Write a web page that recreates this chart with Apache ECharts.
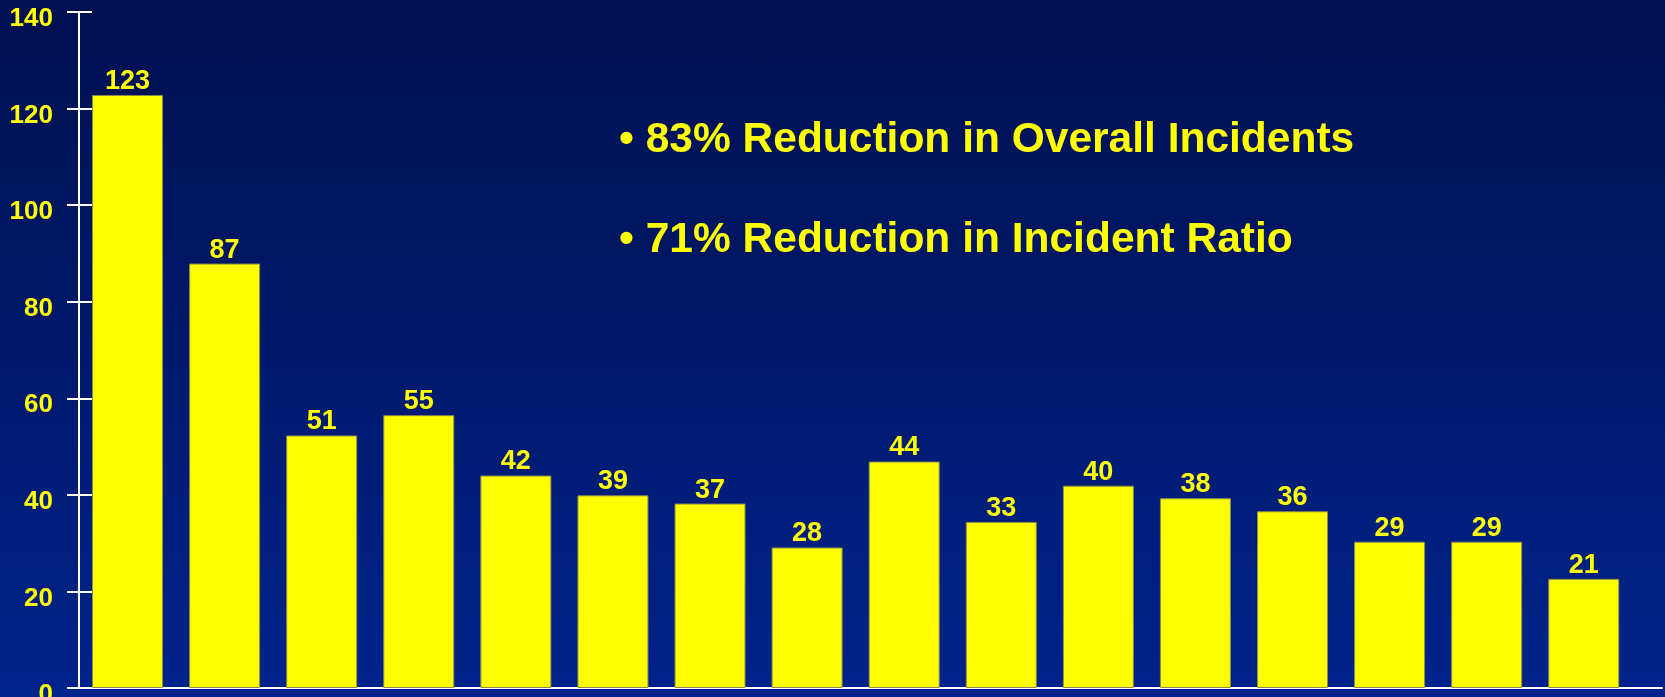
<!DOCTYPE html>
<html>
<head>
<meta charset="utf-8">
<script src="https://cdn.jsdelivr.net/npm/echarts@6/dist/echarts.min.js"></script>
<style>
html,body{margin:0;padding:0;width:1665px;height:697px;overflow:hidden;
background:linear-gradient(to bottom,#001050 0%,#001868 45%,#00238c 100%);}
#c{width:1665px;height:697px;}
</style>
</head>
<body>
<div id="c"></div>
<script>
// bar heights as drawn, and the printed labels above them
const barValues = [122.8, 87.9, 52.3, 56.5, 44.0, 39.9, 38.2, 29.1, 46.9, 34.4, 41.9, 39.3, 36.6, 30.3, 30.3, 22.6];
const barLabels = ['123','87','51','55','42','39','37','28','44','33','40','38','36','29','29','21'];
const yTicks = [0, 20, 40, 60, 80, 100, 120, 140];
const bullets = ['83% Reduction in Overall Incidents', '71% Reduction in Incident Ratio'];

const FONT = '"Liberation Sans", Arial, sans-serif';
const YEL = '#ffff00';
const chart = echarts.init(document.getElementById('c'), null, {renderer:'canvas'});
chart.setOption({
  backgroundColor: 'transparent',
  animation: false,
  grid: {left: 79, right: 3, top: 12, bottom: 9, containLabel: false, outerBoundsMode: 'none'},
  xAxis: {
    type: 'value', min: -0.5, max: 15.806,
    axisLine: {show: true, onZero: false, lineStyle: {color: '#ffffff', width: 2}},
    axisTick: {show: false}, axisLabel: {show: false}, splitLine: {show: false}
  },
  yAxis: [{
    type: 'value', position: 'left', min: yTicks[0], max: yTicks[yTicks.length-1], interval: 20,
    axisLine: {show: true, onZero: false, lineStyle: {color: '#ffffff', width: 2}},
    axisTick: {show: true, length: 12, lineStyle: {color: '#ffffff', width: 2}},
    axisLabel: {
      margin: 26,
      formatter: v => '{a|' + v + '}',
      rich: {a: {color: YEL, fontFamily: FONT, fontWeight: 'bold', fontSize: 26, padding: [14,0,0,0]}}
    },
    splitLine: {show: false}
  },{
    type: 'value', position: 'left', min: yTicks[0], max: yTicks[yTicks.length-1], interval: 20,
    axisLine: {show: false, onZero: false},
    axisTick: {show: true, inside: true, length: 13, lineStyle: {color: '#ffffff', width: 2}},
    axisLabel: {show: false}, splitLine: {show: false}
  }],
  graphic: bullets.map((t, i) => ({
    type: 'text', left: 619, top: 119 + i * 100, z: 10,
    style: {text: '\u2022 ' + t, fill: YEL, font: 'bold 42.5px ' + FONT}
  })),
  series: [{
    type: 'bar',
    barWidth: 71,
    data: barValues.map((v, i) => [i, v]),
    itemStyle: {color: YEL, borderColor: '#8c8c4a', borderWidth: 1},
    label: {
      show: true, position: 'top', distance: 0,
      color: YEL, fontFamily: FONT, fontWeight: 'bold', fontSize: 27,
      formatter: p => barLabels[p.dataIndex]
    }
  }]
});
</script>
</body>
</html>
